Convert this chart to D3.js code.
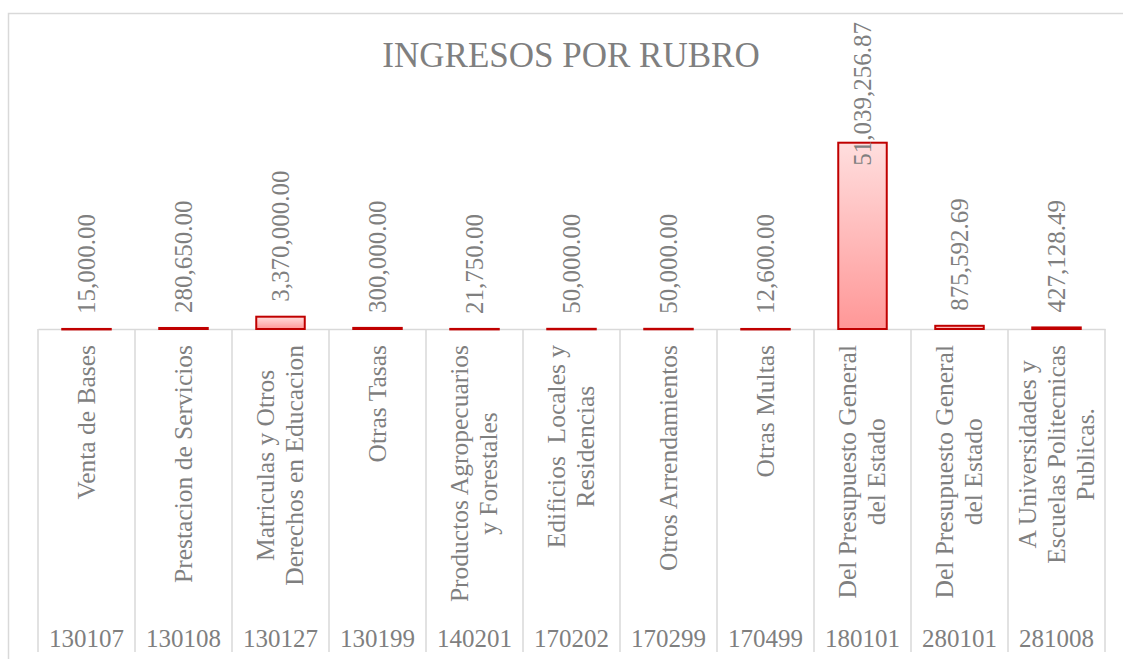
<!DOCTYPE html>
<html>
<head>
<meta charset="utf-8">
<script src="https://cdn.jsdelivr.net/npm/d3@7"></script>
<style>
  body { margin: 0; background: #fff; }
  text { font-family: "Liberation Serif", "Times New Roman", serif; fill: #7f7f7f; }
</style>
</head>
<body>
<script>
// chart data
const codes = ["130107", "130108", "130127", "130199", "140201", "170202", "170299", "170499", "180101", "280101", "281008"];
const names = [
  ["Venta de Bases"],
  ["Prestacion de Servicios"],
  ["Matriculas y Otros", "Derechos en Educacion"],
  ["Otras Tasas"],
  ["Productos Agropecuarios", "y Forestales"],
  ["Edificios  Locales y", "Residencias"],
  ["Otros Arrendamientos"],
  ["Otras Multas"],
  ["Del Presupuesto General", "del Estado"],
  ["Del Presupuesto General", "del Estado"],
  ["A Universidades y", "Escuelas Politecnicas", "Publicas."]
];
const values = [15000, 280650, 3370000, 300000, 21750, 50000, 50000, 12600, 51039256.87, 875592.69, 427128.49];

const W = 1123, H = 659;
const svg = d3.select("body").append("svg")
    .attr("width", W)
    .attr("height", H);

// gradient for the bars
const grad = svg.append("defs").append("linearGradient")
    .attr("id", "barGrad")
    .attr("x1", 0).attr("y1", 0).attr("x2", 0).attr("y2", 1);
grad.append("stop").attr("offset", "0%").attr("stop-color", "#ffdede");
grad.append("stop").attr("offset", "100%").attr("stop-color", "#ff9797");

// outer chart border
svg.append("rect")
    .attr("x", 8.5).attr("y", 13.5)
    .attr("width", 1130).attr("height", 660)
    .attr("fill", "none")
    .attr("stroke", "#d9d9d9")
    .attr("stroke-width", 1.5);

// title
svg.append("text")
    .attr("x", 571)
    .attr("y", 67)
    .attr("text-anchor", "middle")
    .style("font-size", "35px")
    .text("INGRESOS POR RUBRO");

// scales
const x = d3.scaleBand()
    .domain(codes)
    .range([38, 1105])
    .paddingInner(0.5)
    .paddingOuter(0.25);

const y = d3.scaleLinear()
    .domain([0, 60000000])
    .range([329, 110]);

const xMid = i => x(codes[i]) + x.bandwidth() / 2;

// category axis line and separators
svg.append("g")
    .attr("transform", `translate(0,${y(0)})`)
    .call(d3.axisBottom(x).tickSize(0).tickFormat(""))
    .call(g => g.select(".domain").attr("stroke", "#d9d9d9").attr("stroke-width", 1.5));

const edges = d3.range(codes.length + 1).map(i => x.range()[0] + i * x.step());
svg.append("g").selectAll("line")
    .data(edges)
    .join("line")
    .attr("x1", d => d).attr("x2", d => d)
    .attr("y1", y(0)).attr("y2", 652)
    .attr("stroke", "#d9d9d9")
    .attr("stroke-width", 1.5);

// bars
svg.append("g").selectAll("rect")
    .data(values)
    .join("rect")
    .attr("x", (d, i) => x(codes[i]))
    .attr("y", d => y(d))
    .attr("width", x.bandwidth())
    .attr("height", d => Math.max(y(0) - y(d), 0.5))
    .attr("fill", "url(#barGrad)")
    .attr("stroke", "#c00000")
    .attr("stroke-width", 2);

// value labels, pushed down when they would leave the chart
const fmt = d3.format(",.2f");
svg.append("g").selectAll("text")
    .data(values)
    .join("text")
    .style("font-size", "25px")
    .attr("dy", "0.33em")
    .text(d => fmt(d))
    .each(function(d, i) {
      const len = this.getComputedTextLength();
      let start = y(d) - 15;
      if (start - len < 22) start = 22 + len;
      d3.select(this)
        .attr("transform", `translate(${xMid(i)},${start}) rotate(-90)`);
    });

// category names (rotated, multi-line)
const nameG = svg.append("g");
names.forEach((lines, i) => {
  const g = nameG.append("g");
  const n = lines.length;
  const texts = lines.map(ln => g.append("text")
      .style("font-size", "25.5px")
      .attr("text-anchor", "middle")
      .attr("dy", "0.33em")
      .attr("xml:space", "preserve")
      .text(ln));
  const maxLen = d3.max(texts, t => t.node().getComputedTextLength());
  texts.forEach((t, k) => {
    const cx = xMid(i) + (k - (n - 1) / 2) * 29;
    t.attr("transform", `translate(${cx},${345 + maxLen / 2}) rotate(-90)`);
  });
});

// codes
svg.append("g").selectAll("text")
    .data(codes)
    .join("text")
    .attr("x", (d, i) => xMid(i))
    .attr("y", 647)
    .attr("text-anchor", "middle")
    .style("font-size", "25px")
    .text(d => d);
</script>
</body>
</html>
